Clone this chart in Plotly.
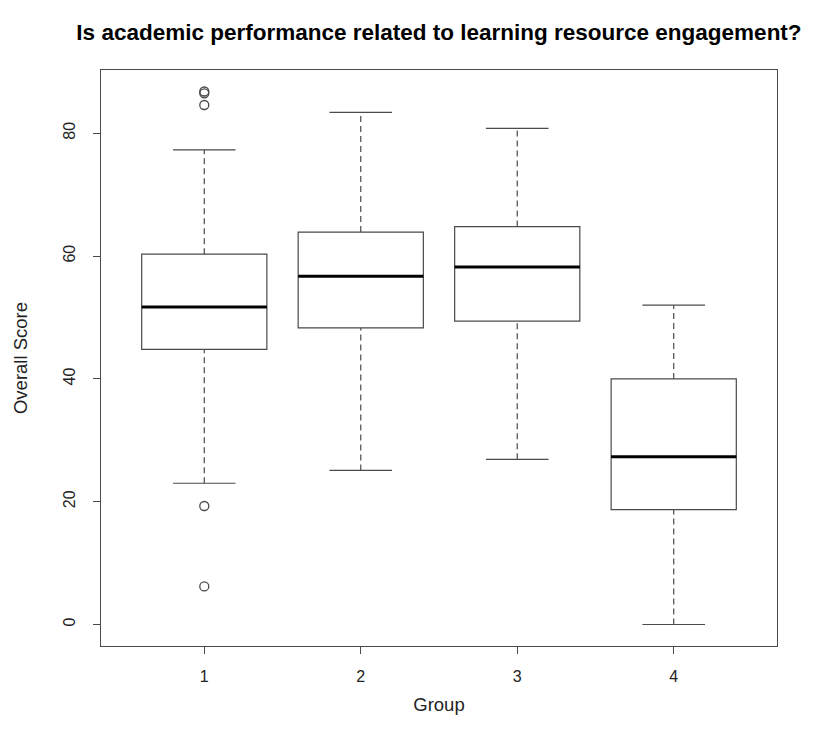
import plotly.graph_objects as go

groups = [1, 2, 3, 4]
q1 = [44.8, 48.3, 49.4, 18.7]
median = [51.7, 56.7, 58.2, 27.3]
q3 = [60.3, 63.9, 64.8, 40.0]
lower_whisker = [23.0, 25.1, 26.9, 0.0]
upper_whisker = [77.3, 83.4, 80.8, 52.0]
outlier_group = [1, 1, 1, 1, 1]
outlier_values = [86.8, 86.5, 84.6, 19.3, 6.2]

LINE = "#4a4a4a"
BOXW = 0.8
CAPW = 0.4
FONT = "Liberation Sans, Arial, Helvetica"

fig = go.Figure()

# boxes (whiskers drawn separately as dashed lines)
fig.add_trace(go.Box(
    x=groups, q1=q1, median=median, q3=q3,
    lowerfence=q1, upperfence=q3,
    width=BOXW, fillcolor="white",
    line=dict(color=LINE, width=1.2),
    boxpoints=False, showlegend=False, hoverinfo="skip",
))

# dashed whiskers
wx, wy = [], []
for g, a, b, lo, hi in zip(groups, q1, q3, lower_whisker, upper_whisker):
    wx += [g, g, None, g, g, None]
    wy += [lo, a, None, b, hi, None]
fig.add_trace(go.Scatter(x=wx, y=wy, mode="lines",
                         line=dict(color=LINE, width=1.2, dash="6px,4px"),
                         showlegend=False, hoverinfo="skip"))

# whisker caps
cx, cy = [], []
for g, lo, hi in zip(groups, lower_whisker, upper_whisker):
    cx += [g - CAPW / 2, g + CAPW / 2, None, g - CAPW / 2, g + CAPW / 2, None]
    cy += [lo, lo, None, hi, hi, None]
fig.add_trace(go.Scatter(x=cx, y=cy, mode="lines",
                         line=dict(color=LINE, width=1.2),
                         showlegend=False, hoverinfo="skip"))

# thick medians
mx, my = [], []
for g, m in zip(groups, median):
    mx += [g - BOXW / 2, g + BOXW / 2, None]
    my += [m, m, None]
fig.add_trace(go.Scatter(x=mx, y=my, mode="lines",
                         line=dict(color="black", width=3),
                         showlegend=False, hoverinfo="skip"))

# outliers
fig.add_trace(go.Scatter(x=outlier_group, y=outlier_values, mode="markers",
                         marker=dict(symbol="circle-open", size=9,
                                     color=LINE, line=dict(width=1.3)),
                         showlegend=False, hoverinfo="skip"))

axis_common = dict(
    showline=True, linecolor=LINE, linewidth=1.2, mirror=True,
    ticks="outside", ticklen=7, tickcolor=LINE, tickwidth=1.2,
    showgrid=False, zeroline=False, automargin=False,
    tickfont=dict(family=FONT, size=16, color="#222222"),
    title_font=dict(family=FONT, size=18.5, color="#222222"),
)

# page body adds an 8px offset; size the figure so it still ends at 827x740
W, H = 819, 732
fig.update_layout(
    width=W, height=H,
    margin=dict(l=93, r=50, t=62, b=94),
    paper_bgcolor="white", plot_bgcolor="white",
    title=dict(text="<b>Is academic performance related to learning resource engagement?</b>",
               x=(93 + 769) / 2 / W, xanchor="center", y=1 - 24 / H, yanchor="middle",
               font=dict(family=FONT, size=22.5, color="black")),
    xaxis=dict(range=[0.34, 4.66], tickmode="array", tickvals=groups,
               ticktext=[str(g) for g in groups],
               title=dict(text="Group", standoff=13), ticklabelstandoff=9,
               **axis_common),
    yaxis=dict(range=[-3.5, 90.3], tickmode="array", tickvals=[0, 20, 40, 60, 80],
               tickangle=-90, title=dict(text="Overall Score", standoff=28),
               ticklabelstandoff=12, **axis_common),
)

fig.write_html("out.html")
